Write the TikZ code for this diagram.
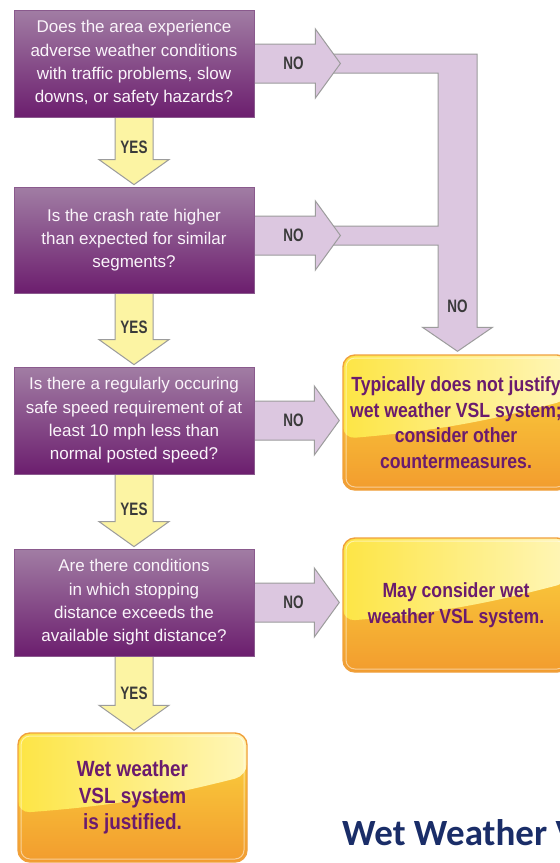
\documentclass[tikz,border=0pt]{standalone}
\usepackage{fontspec}
\usetikzlibrary{calc}
\setmainfont{Liberation Sans}
\newfontfamily\qfont{Liberation Sans}
\newfontfamily\rfont[FakeStretch=0.86]{Liberation Sans Bold}
\newfontfamily\lfont[FakeStretch=0.75]{Liberation Sans Bold}
\newfontfamily\tfont{Carlito}

\definecolor{qtop}{HTML}{A17DA4}
\definecolor{qbot}{HTML}{6C1E6E}
\definecolor{qedge}{HTML}{8A5A8D}
\definecolor{qtext}{HTML}{FAF4FA}
\definecolor{nofill}{HTML}{DCC7E0}
\definecolor{arrowedge}{HTML}{9C9C9C}
\definecolor{yesfill}{HTML}{FCF4A3}
\definecolor{lbltext}{HTML}{3A3A3A}
\definecolor{rtop}{HTML}{FBD63F}
\definecolor{rbot}{HTML}{F29C2E}
\definecolor{redge}{HTML}{F0A03C}
\definecolor{glossL}{HTML}{FDE545}
\definecolor{glossR}{HTML}{FFF6B8}
\definecolor{rtext}{HTML}{6A1B6E}
\definecolor{navy}{HTML}{1A2D68}

\pgfdeclarelayer{bg}
\pgfdeclarelayer{back}
\pgfsetlayers{bg,back,main}

\tikzset{
  qbox/.style={rectangle, draw=qedge, line width=0.8pt,
    top color=qtop, bottom color=qbot, text=qtext,
    font=\qfont\fontsize{17}{23.3}\selectfont, align=center,
    minimum width=240pt, minimum height=107pt, inner sep=0pt},
  rbox/.style={rectangle, rounded corners=12pt, draw=redge, line width=1.4pt,
    top color=rtop, bottom color=rbot, text=rtext, align=center, inner sep=0pt,
    font=\rfont\fontsize{20.5}{25.5}\selectfont,
    path picture={
      \shade[left color=glossL, right color=glossR]
        (path picture bounding box.north west) -- (path picture bounding box.north east)
        -- ($(path picture bounding box.north east)!0.33!(path picture bounding box.south east)$)
        to[bend left=5] ($(path picture bounding box.north west)!0.62!(path picture bounding box.south west)$)
        -- cycle;
      \draw[white, opacity=0.5, line width=1pt, rounded corners=9pt]
        ([xshift=3pt,yshift=-3pt]path picture bounding box.north west) rectangle
        ([xshift=-3pt,yshift=3pt]path picture bounding box.south east);
    }},
  finalfont/.style={font=\rfont\fontsize{22}{26.7}\selectfont},
  yesshape/.style={fill=yesfill, draw=arrowedge, line width=1pt, line join=miter},
  noshape/.style={fill=nofill, draw=arrowedge, line width=1pt, line join=miter},
  lbl/.style={font=\lfont\fontsize{18}{20}\selectfont, text=lbltext, inner sep=0pt},
}

% downward YES arrow from the bottom of #1 to the top of #2
\newcommand\yesarrow[4]{%
  \path[yesshape] let \p1=(#1.south), \p2=(#2.north) in
    (\x1-19pt,\y1) -- (\x1+19pt,\y1) -- (\x1+19pt,\y2+27pt) -- (\x1+35pt,\y2+27pt)
    -- (\x1,\y2+2pt) -- (\x1-35pt,\y2+27pt) -- (\x1-19pt,\y2+27pt) -- cycle
    (\x1,\y2+39pt) node[lbl] (#3) {#4};
}
% rightward NO arrow from the side of #1 to the point #2
\newcommand\noarrow[4]{%
  \path[noshape] let \p1=(#1.east), \p2=(#2) in
    (\x1,\y2+19.5pt) -- (\x2-25pt,\y2+19.5pt) -- (\x2-25pt,\y2+34.5pt) -- (\x2,\y2)
    -- (\x2-25pt,\y2-34.5pt) -- (\x2-25pt,\y2-19.5pt) -- (\x1,\y2-19.5pt) -- cycle
    (\x1+39pt,\y2) node[lbl] (#3) {#4};
}

\begin{document}
\begin{tikzpicture}[x=1pt,y=-1pt]
\useasboundingbox (0,0) rectangle (560,863);
\clip (0,0) rectangle (560,863);
\begin{pgfonlayer}{bg}
  \fill[white] (0,0) rectangle (560,863);
\end{pgfonlayer}

% question boxes
\node[qbox] (q1) at (134,63.5) {Does the area experience\\adverse weather conditions\\with traffic problems, slow\\downs, or safety hazards?};
\node[qbox, minimum height=106pt] (q2) at (134,240) {Is the crash rate higher\\than expected for similar\\segments?};
\node[qbox] (q3) at (134,420.5) {Is there a regularly occuring\\safe speed requirement of at\\least 10 mph less than\\normal posted speed?};
\node[qbox] (q4) at (134,602.5) {Are there conditions\\in which stopping\\distance exceeds the\\available sight distance?};

% outcome boxes
\node[rbox, minimum width=226pt, minimum height=135pt] (r1) at (456,422.5) {Typically does not justify\\wet weather VSL system;\\consider other\\countermeasures.};
\node[rbox, minimum width=226pt, minimum height=134pt] (r2) at (456,605) {May consider wet\\weather VSL system.};
\node[rbox, finalfont, minimum width=229pt, minimum height=129pt] (r3) at (132.5,797.5) {Wet weather\\VSL system\\is justified.};

% title
\node[anchor=base west, inner sep=0pt, text=navy, font=\tfont\bfseries\fontsize{37}{41}\selectfont] (title) at (342,845) {Wet Weather V};

% arrow tips of the NO branches
\coordinate (t1) at ([xshift=86pt]q1.east);
\coordinate (t2) at ([xshift=86pt,yshift=4.5pt]q2.east);
\coordinate (t3) at ([xshift=-3pt]r1.west |- q3.east);
\coordinate (t4) at ([xshift=-3pt]r2.west |- q4.east);

\begin{pgfonlayer}{back}
  % collecting bar from the first two NO branches down to r1
  \path[noshape] let \p1=(t1), \p2=(t2), \p3=([xshift=1.5pt]r1.north) in
    (\x1-8pt,\y1+9.5pt) -- (\x3+19.5pt,\y1+9.5pt) -- (\x3+19.5pt,\y3+27pt)
    -- (\x3+35pt,\y3+27pt) -- (\x3,\y3+3pt) -- (\x3-35pt,\y3+27pt) -- (\x3-19.5pt,\y3+27pt)
    -- (\x3-19.5pt,\y2-9.5pt) -- (\x2-8pt,\y2-9.5pt) -- (\x2-8pt,\y2+9.5pt)
    -- (\x3-19.5pt,\y2+9.5pt) -- (\x3-19.5pt,\y1-9.5pt) -- (\x1-8pt,\y1-9.5pt) -- cycle
    (\x3,\y3+48pt) node[lbl] (nobar) {NO};

  \noarrow{q1}{t1}{no1}{NO}
  \noarrow{q2}{t2}{no2}{NO}
  \noarrow{q3}{t3}{no3}{NO}
  \noarrow{q4}{t4}{no4}{NO}

  \yesarrow{q1}{q2}{yes1}{YES}
  \yesarrow{q2}{q3}{yes2}{YES}
  \yesarrow{q3}{q4}{yes3}{YES}
  \yesarrow{q4}{r3}{yes4}{YES}
\end{pgfonlayer}
\end{tikzpicture}
\end{document}
